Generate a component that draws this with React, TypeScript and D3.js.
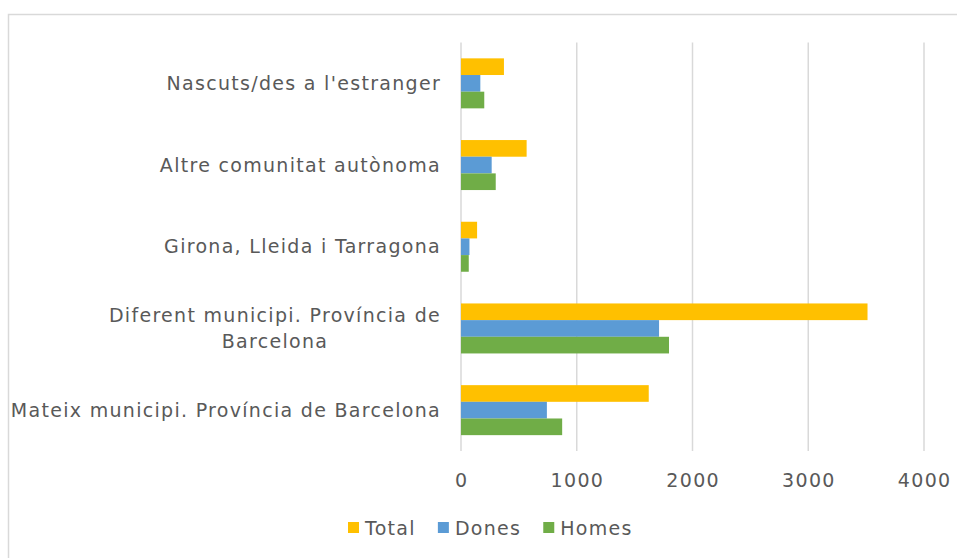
import React, { useEffect, useRef } from "react";
import * as d3 from "d3";

const categories = [
  ["Nascuts/des a l'estranger"],
  ["Altre comunitat autònoma"],
  ["Girona, Lleida i Tarragona"],
  ["Diferent municipi. Província de", "Barcelona"],
  ["Mateix municipi. Província de Barcelona"],
];
const seriesNames = ["Total", "Dones", "Homes"];
const seriesColors = ["#FFC000", "#5B9BD5", "#70AD47"];
const totalValues = [371, 567, 139, 3512, 1622];
const donesValues = [167, 265, 73, 1711, 742];
const homesValues = [201, 300, 67, 1797, 874];
const xTicks = [0, 1000, 2000, 3000, 4000];

const width = 957;
const height = 558;
const margin = { top: 42.5, bottom: 451, left: 461, right: 924 };
const font = "'DejaVu Sans', sans-serif";
const fontSize = 19;
const spacing = 1.3;
const textColor = "#595959";

export default function App() {
  const ref = useRef<SVGSVGElement>(null);

  useEffect(() => {
    const svg = d3.select(ref.current);
    svg.selectAll("*").remove();

    const values = [totalValues, donesValues, homesValues];
    const keys = categories.map((c) => c.join(" "));

    const x = d3.scaleLinear().domain([0, 4000]).range([margin.left, margin.right]);
    const y = d3
      .scaleBand()
      .domain(keys)
      .range([margin.top, margin.bottom])
      .paddingInner(0.388)
      .paddingOuter(0.194);
    const inner = d3.scaleBand().domain(seriesNames).range([0, y.bandwidth()]);

    const styleText = (sel: any) =>
      sel
        .attr("font-family", font)
        .attr("font-size", fontSize)
        .attr("letter-spacing", spacing)
        .attr("fill", textColor)
        .attr("dy", "0.35em");

    // chart border
    svg
      .append("rect")
      .attr("x", 8.5)
      .attr("y", 14.5)
      .attr("width", 1000)
      .attr("height", 1000)
      .attr("fill", "#fff")
      .attr("stroke", "#d9d9d9")
      .attr("stroke-width", 1.5);

    // gridlines
    svg
      .append("g")
      .selectAll("line")
      .data(xTicks)
      .join("line")
      .attr("x1", (d) => x(d))
      .attr("x2", (d) => x(d))
      .attr("y1", margin.top)
      .attr("y2", margin.bottom)
      .attr("stroke", "#d9d9d9")
      .attr("stroke-width", 1.5);

    // bars
    seriesNames.forEach((s, si) => {
      svg
        .append("g")
        .selectAll("rect")
        .data(values[si])
        .join("rect")
        .attr("x", x(0))
        .attr("y", (d, i) => (y(keys[i]) as number) + (inner(s) as number))
        .attr("width", (d) => x(d) - x(0))
        .attr("height", inner.bandwidth())
        .attr("fill", seriesColors[si]);
    });

    // x tick labels
    svg
      .append("g")
      .selectAll("text")
      .data(xTicks)
      .join("text")
      .attr("x", (d) => x(d) + spacing / 2)
      .attr("y", 480)
      .attr("text-anchor", "middle")
      .call(styleText)
      .text((d) => d);

    // category labels
    const labelX = 441;
    categories.forEach((lines, i) => {
      const cy = (y(keys[i]) as number) + y.bandwidth() / 2;
      const lh = 26;
      const first = svg
        .append("text")
        .attr("x", labelX)
        .attr("y", cy - ((lines.length - 1) * lh) / 2)
        .attr("text-anchor", "end")
        .call(styleText)
        .text(lines[0]);
      if (lines.length > 1) {
        const w = (first.node() as SVGTextElement).getComputedTextLength();
        lines.slice(1).forEach((l, j) => {
          svg
            .append("text")
            .attr("x", labelX - w / 2)
            .attr("y", cy - ((lines.length - 1) * lh) / 2 + (j + 1) * lh)
            .attr("text-anchor", "middle")
            .call(styleText)
            .text(l);
        });
      }
    });

    // legend
    const legend = svg.append("g");
    let lx = 348;
    seriesNames.forEach((s, si) => {
      legend
        .append("rect")
        .attr("x", lx)
        .attr("y", 522)
        .attr("width", 11)
        .attr("height", 11)
        .attr("fill", seriesColors[si]);
      const t = legend
        .append("text")
        .attr("x", lx + 17)
        .attr("y", 528)
        .call(styleText)
        .text(s);
      lx += 17 + (t.node() as SVGTextElement).getComputedTextLength() + 22;
    });
  }, []);

  return (
    <svg
      ref={ref}
      width={width}
      height={height}
      style={{ position: "absolute", left: 0, top: 0, display: "block" }}
    />
  );
}
